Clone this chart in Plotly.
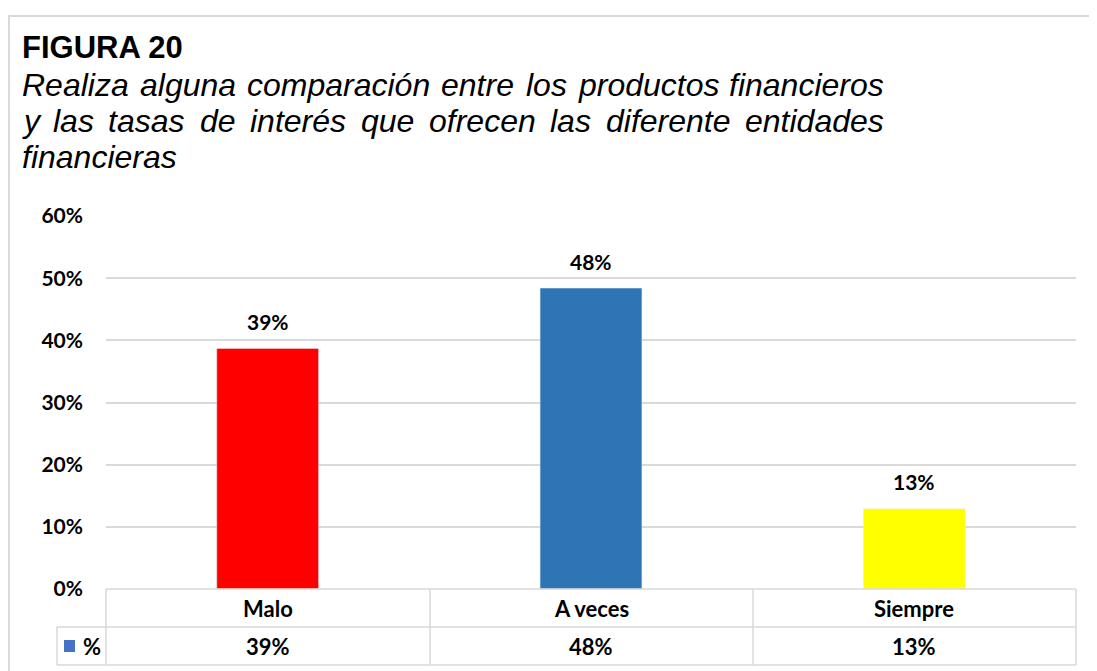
import plotly.graph_objects as go

categorias = ["Malo", "A veces", "Siempre"]
porcentajes = [0.387, 0.484, 0.129]
etiquetas = ["39%", "48%", "13%"]
colores = ["#ff0000", "#2e75b6", "#ffff00"]
serie = "%"

titulo = "FIGURA 20"
subtitulo = [
    "Realiza alguna comparación entre los productos financieros",
    "y las tasas de interés que ofrecen las diferente entidades",
    "financieras",
]

# the page has an 8px body margin, so positions are measured on the reference and shifted
OFF = 8
W, H = 1097 - OFF, 671 - OFF
L, R, T, B = 106, 1076, 216, 589  # plot area in reference pixels


def px_x(p):
    return (p - L) / (R - L)


def px_y(p):
    return (B - p) / (B - T)


# Arial / Liberation Sans advance widths (1/1000 em) to justify the subtitle
ANCHO = {" ": 278, "a": 556, "b": 556, "c": 500, "d": 556, "e": 556, "f": 278, "g": 556,
         "h": 556, "i": 222, "j": 222, "k": 500, "l": 222, "m": 833, "n": 556, "o": 556,
         "p": 556, "q": 556, "r": 333, "s": 500, "t": 278, "u": 556, "v": 500, "w": 722,
         "x": 500, "y": 500, "z": 500, "R": 722, "ó": 556, "é": 556}


def ancho(txt, size):
    return sum(ANCHO.get(ch, 556) for ch in txt) * size / 1000


fig = go.Figure()
fig.add_trace(go.Bar(
    x=categorias, y=porcentajes, marker_color=colores, width=0.315,
    hoverinfo="skip", showlegend=False,
))

fuente = "Lato"
arial = "Liberation Sans"
grid = "#d9d9d9"

anns = []
# data labels
for c, v, t in zip(categorias, porcentajes, etiquetas):
    anns.append(dict(x=c, y=v, text=f"<b>{t}</b>", showarrow=False, yshift=27,
                     font=dict(family=fuente, size=21, color="#000")))

# title
anns.append(dict(xref="paper", yref="paper", x=px_x(20), y=px_y(48), xanchor="left",
                 yanchor="middle", text=f"<b>{titulo}</b>", showarrow=False,
                 font=dict(family=arial, size=31, color="#000")))
# justified subtitle (last line left aligned)
fs = 32
izq, der = 22, 884
for i, linea in enumerate(subtitulo):
    yy = px_y(85 + 36 * i)
    palabras = linea.split(" ")
    if i < len(subtitulo) - 1 and len(palabras) > 1:
        total = sum(ancho(w, fs) for w in palabras)
        hueco = (der - izq - total) / (len(palabras) - 1)
    else:
        hueco = ancho(" ", fs)
    xx = izq
    for w in palabras:
        anns.append(dict(xref="paper", yref="paper", x=px_x(xx - 2), y=yy,
                         xanchor="left", yanchor="middle", text=f"<i>{w}</i>",
                         showarrow=False, font=dict(family=arial, size=fs, color="#000")))
        xx += ancho(w, fs) + hueco

# data table text
fila1, fila2 = 608, 646
for c, t in zip(categorias, etiquetas):
    anns.append(dict(x=c, yref="paper", y=px_y(fila1), text=f"<b>{c}</b>", showarrow=False,
                     yanchor="middle", font=dict(family=fuente, size=22, color="#000")))
    anns.append(dict(x=c, yref="paper", y=px_y(fila2), text=f"<b>{t}</b>", showarrow=False,
                     yanchor="middle", font=dict(family=fuente, size=22, color="#000")))
anns.append(dict(xref="paper", yref="paper", x=px_x(81), y=px_y(fila2), xanchor="left",
                 yanchor="middle", text=f"<b>{serie}</b>", showarrow=False,
                 font=dict(family=fuente, size=22, color="#000")))

shapes = []
# outer chart border
shapes.append(dict(type="rect", xref="paper", yref="paper", x0=px_x(9), x1=px_x(1120),
                   y0=px_y(700), y1=px_y(16), line=dict(color=grid, width=2),
                   fillcolor="rgba(0,0,0,0)", layer="below"))
# table lines
lw = dict(color=grid, width=1.5)
shapes.append(dict(type="line", xref="paper", yref="paper", x0=px_x(L), x1=px_x(R),
                   y0=px_y(589), y1=px_y(589), line=lw))
shapes.append(dict(type="line", xref="paper", yref="paper", x0=px_x(57), x1=px_x(R),
                   y0=px_y(627), y1=px_y(627), line=lw))
shapes.append(dict(type="line", xref="paper", yref="paper", x0=px_x(57), x1=px_x(R),
                   y0=px_y(665), y1=px_y(665), line=lw))
for xp in [L, 430, 753, R]:
    shapes.append(dict(type="line", xref="paper", yref="paper", x0=px_x(xp), x1=px_x(xp),
                       y0=px_y(589), y1=px_y(665), line=lw))
shapes.append(dict(type="line", xref="paper", yref="paper", x0=px_x(57), x1=px_x(57),
                   y0=px_y(627), y1=px_y(665), line=lw))
# legend key
shapes.append(dict(type="rect", xref="paper", yref="paper", x0=px_x(64), x1=px_x(75),
                   y0=px_y(652), y1=px_y(640), line=dict(width=0), fillcolor="#4472c4"))

fig.update_layout(
    width=W, height=H,
    margin=dict(l=L - OFF, r=W - (R - OFF), t=T - OFF, b=H - (B - OFF), pad=0),
    paper_bgcolor="white", plot_bgcolor="white",
    bargap=0.685,
    annotations=anns, shapes=shapes,
    xaxis=dict(showticklabels=False, showgrid=False, zeroline=False, showline=False,
               fixedrange=True),
    yaxis=dict(range=[0, 0.6], dtick=0.1, tickformat=".0%", showgrid=True,
               gridcolor=grid, gridwidth=1.5, zeroline=False, showline=False,
               ticklabelstandoff=22,
               tickfont=dict(family=fuente, size=21, color="#000", weight="bold")),
)

fig.write_html("out.html")
